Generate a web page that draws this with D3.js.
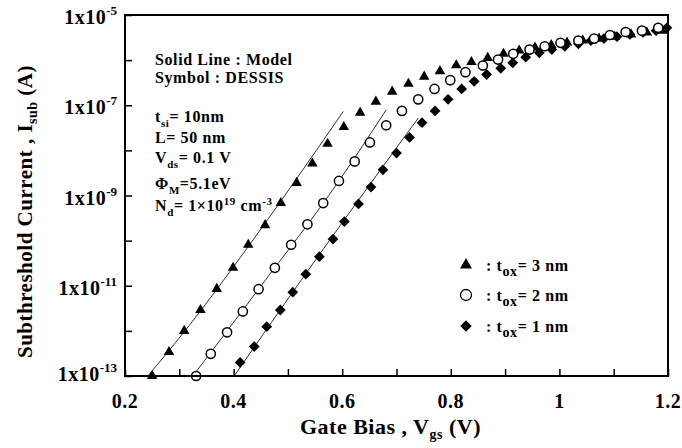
<!DOCTYPE html>
<html>
<head>
<meta charset="utf-8">
<script src="https://cdn.jsdelivr.net/npm/d3@7"></script>
<style>
  body { margin: 0; background: #fff; }
  text { font-family: "Liberation Serif", "Times New Roman", serif; font-weight: bold; fill: #000; }
</style>
</head>
<body>
<svg id="chart" width="682" height="448"></svg>
<script>
// Gate bias (V) and subthreshold current (A)
const triVgs = [0.25, 0.281, 0.309, 0.339, 0.369, 0.399, 0.427, 0.458, 0.487, 0.516, 0.545, 0.573,
  0.603, 0.633, 0.662, 0.692, 0.722, 0.751, 0.780, 0.810, 0.838, 0.868, 0.897, 0.926, 0.955,
  0.985, 1.014, 1.043, 1.073, 1.102, 1.132, 1.161, 1.190];
const triIsub = [1.0e-13, 3.4e-13, 1.0e-12, 2.9e-12, 8.5e-12, 2.5e-11, 8.1e-11, 2.2e-10, 6.8e-10,
  1.9e-9, 5.1e-9, 1.4e-8, 3.3e-8, 6.8e-8, 1.2e-7, 2.0e-7, 3.0e-7, 4.3e-7, 5.7e-7, 7.7e-7, 9.1e-7,
  1.12e-6, 1.38e-6, 1.63e-6, 1.9e-6, 2.16e-6, 2.45e-6, 2.72e-6, 3.0e-6, 3.3e-6, 3.7e-6, 4.1e-6, 4.5e-6];

const cirVgs = [0.331, 0.358, 0.388, 0.417, 0.446, 0.476, 0.506, 0.536, 0.565, 0.594, 0.623, 0.651,
  0.681, 0.710, 0.740, 0.770, 0.799, 0.827, 0.859, 0.887, 0.915, 0.945, 0.973, 1.002, 1.035,
  1.064, 1.093, 1.122, 1.152, 1.182];
const cirIsub = [1.0e-13, 3.1e-13, 9.3e-13, 2.7e-12, 8.4e-12, 2.5e-11, 8.1e-11, 2.3e-10, 6.8e-10,
  2.1e-9, 5.7e-9, 1.5e-8, 3.6e-8, 7.5e-8, 1.35e-7, 2.3e-7, 3.6e-7, 5.4e-7, 7.6e-7, 1.03e-6,
  1.38e-6, 1.71e-6, 2.03e-6, 2.42e-6, 2.72e-6, 3.0e-6, 3.6e-6, 4.2e-6, 4.5e-6, 5.2e-6];

const diaVgs = [0.412, 0.438, 0.461, 0.486, 0.509, 0.533, 0.558, 0.583, 0.604, 0.630, 0.653, 0.675,
  0.700, 0.724, 0.747, 0.771, 0.795, 0.820, 0.843, 0.866, 0.892, 0.914, 0.938, 0.963, 0.986,
  1.010, 1.035, 1.058, 1.082, 1.106, 1.130, 1.154, 1.178, 1.198];
const diaIsub = [2.0e-13, 4.5e-13, 1.24e-12, 2.9e-12, 7.2e-12, 1.8e-11, 4.4e-11, 1.08e-10, 2.65e-10,
  6.5e-10, 1.54e-9, 3.7e-9, 8.7e-9, 1.93e-8, 4.1e-8, 7.5e-8, 1.35e-7, 2.3e-7, 3.4e-7, 4.8e-7,
  6.6e-7, 8.7e-7, 1.16e-6, 1.45e-6, 1.71e-6, 2.03e-6, 2.3e-6, 2.72e-6, 3.0e-6, 3.3e-6, 3.7e-6,
  4.1e-6, 4.5e-6, 5.2e-6];

// model (solid lines)
const modelTriVgs = [0.242, 0.309, 0.427, 0.602];
const modelTriIsub = [1.0e-13, 9.5e-13, 7.4e-11, 7.3e-8];
const modelCirVgs = [0.325, 0.446, 0.594, 0.681];
const modelCirIsub = [1.0e-13, 8.4e-12, 2.1e-9, 7.9e-8];
const modelDiaVgs = [0.401, 0.508, 0.740];
const modelDiaIsub = [1.0e-13, 7.0e-12, 5.2e-8];

const xTicks = [0.2, 0.4, 0.6, 0.8, 1, 1.2];
const xMinor = [0.3, 0.5, 0.7, 0.9, 1.1];
const yExps = [-5, -7, -9, -11, -13];
const yMinorExps = [-6, -8, -10, -12];

const svg = d3.select("#chart");
const plotL = 125, plotR = 668, plotT = 15, plotB = 376;

const x = d3.scaleLinear().domain([0.2, 1.2]).range([plotL, plotR]);
const y = d3.scaleLog().domain([1e-13, 1e-5]).range([plotB, plotT]);

function zip(a, b) { return a.map((v, i) => ({ v: v, i: b[i] })); }

// model lines
const line = d3.line().x(d => x(d.v)).y(d => y(d.i)).curve(d3.curveMonotoneX);
[[modelTriVgs, modelTriIsub], [modelCirVgs, modelCirIsub], [modelDiaVgs, modelDiaIsub]].forEach(m => {
  svg.append("path")
    .datum(zip(m[0], m[1]))
    .attr("d", line)
    .attr("fill", "none")
    .attr("stroke", "#333")
    .attr("stroke-width", 1);
});

// symbols
const triSym = d3.symbol().type(d3.symbolTriangle).size(48);
const diaSym = d3.symbol().type(d3.symbolSquare).size(58);
const triLeg = d3.symbol().type(d3.symbolTriangle).size(62);
const diaLeg = d3.symbol().type(d3.symbolSquare).size(66);

svg.append("g").selectAll("path")
  .data(zip(triVgs, triIsub))
  .join("path")
  .attr("d", triSym)
  .attr("transform", d => `translate(${x(d.v)},${y(d.i)})`)
  .attr("fill", "#000");

svg.append("g").selectAll("path")
  .data(zip(diaVgs, diaIsub))
  .join("path")
  .attr("d", diaSym)
  .attr("transform", d => `translate(${x(d.v)},${y(d.i)}) rotate(45)`)
  .attr("fill", "#000");

svg.append("g").selectAll("circle")
  .data(zip(cirVgs, cirIsub))
  .join("circle")
  .attr("cx", d => x(d.v))
  .attr("cy", d => y(d.i))
  .attr("r", 4.6)
  .attr("fill", "#fff")
  .attr("stroke", "#000")
  .attr("stroke-width", 1.5);

// axes (ticks point inward)
const xAxis = d3.axisBottom(x).tickValues(xTicks.concat(xMinor)).tickSize(-7).tickFormat("");
const gx = svg.append("g").attr("transform", `translate(0,${plotB})`).call(xAxis);
const yAxis = d3.axisLeft(y).tickValues(yExps.concat(yMinorExps).map(e => Math.pow(10, e))).tickSize(-7).tickFormat("");
const gy = svg.append("g").attr("transform", `translate(${plotL},0)`).call(yAxis);
[gx, gy].forEach(g => {
  g.select(".domain").remove();
  g.selectAll(".tick line").attr("stroke", "#000").attr("stroke-width", 1.5);
});

svg.append("rect")
  .attr("x", plotL).attr("y", plotT)
  .attr("width", plotR - plotL).attr("height", plotB - plotT)
  .attr("fill", "none").attr("stroke", "#000").attr("stroke-width", 2);

// tick labels
svg.append("g").selectAll("text")
  .data(xTicks)
  .join("text")
  .attr("x", d => x(d))
  .attr("y", plotB + 32)
  .attr("text-anchor", "middle")
  .style("font-size", "20px")
  .style("letter-spacing", "0.5px")
  .text(d => d);

const yl = svg.append("g").selectAll("text")
  .data(yExps)
  .join("text")
  .attr("x", plotL - 8)
  .attr("y", d => Math.min(y(Math.pow(10, d)) + 9, 381))
  .attr("text-anchor", "end")
  .style("font-size", "20px")
  .style("letter-spacing", "0.5px");
yl.append("tspan").text("1x10");
yl.append("tspan").attr("dy", -9).style("font-size", "13px").style("letter-spacing", "0px").text(d => d);

// axis titles
const xt = svg.append("text")
  .attr("x", (plotL + plotR) / 2 - 6)
  .attr("y", 434)
  .attr("text-anchor", "middle")
  .style("font-size", "22px")
  .style("letter-spacing", "0.5px");
xt.append("tspan").text("Gate Bias , V");
xt.append("tspan").attr("dy", 5).style("font-size", "14px").text("gs");
xt.append("tspan").attr("dy", -5).text(" (V)");

const yt = svg.append("text")
  .attr("transform", `translate(32,${(plotT + plotB) / 2 + 16}) rotate(-90)`)
  .attr("text-anchor", "middle")
  .style("font-size", "21px")
  .style("letter-spacing", "0.5px");
yt.append("tspan").text("Subthreshold Current , I");
yt.append("tspan").attr("dy", 5).style("font-size", "14px").text("sub");
yt.append("tspan").attr("dy", -5).text(" (A)");

// annotations
const note = svg.append("g").style("font-size", "16px").style("letter-spacing", "0.6px");
note.append("text").attr("x", 155).attr("y", 65).text("Solid Line : Model");
note.append("text").attr("x", 155).attr("y", 83).text("Symbol : DESSIS");

function richText(xp, yp, parts) {
  const t = note.append("text").attr("x", xp).attr("y", yp);
  let shift = 0;
  parts.forEach(p => {
    const dy = (p.sub ? 5 : p.sup ? -6 : 0) - shift;
    shift += dy;
    t.append("tspan").attr("dy", dy).style("font-size", p.sub || p.sup ? "11px" : null).text(p.s);
  });
  return t;
}
richText(155, 122, [{ s: "t" }, { s: "si", sub: true }, { s: "= 10nm" }]);
richText(155, 143, [{ s: "L= 50 nm" }]);
richText(155, 163, [{ s: "V" }, { s: "ds", sub: true }, { s: "= 0.1 V" }]);
richText(155, 189, [{ s: "Φ" }, { s: "M", sub: true }, { s: "=5.1eV" }]);
richText(155, 211, [{ s: "N" }, { s: "d", sub: true }, { s: "= 1×10" }, { s: "19", sup: true }, { s: " cm" }, { s: "-3", sup: true }]);

// legend
const legendLabels = ["3", "2", "1"];
const legendY = [265, 295, 326];
const lg = svg.append("g");
lg.append("path").attr("d", triLeg).attr("transform", `translate(466,${legendY[0]})`).attr("fill", "#000");
lg.append("circle").attr("cx", 466).attr("cy", legendY[1]).attr("r", 5.5)
  .attr("fill", "#fff").attr("stroke", "#000").attr("stroke-width", 1.3);
lg.append("path").attr("d", diaLeg).attr("transform", `translate(466,${legendY[2]}) rotate(45)`).attr("fill", "#000");
legendLabels.forEach((l, i) => {
  const t = lg.append("text").attr("x", 486).attr("y", legendY[i] + 6)
    .style("font-size", "16px").style("letter-spacing", "0.6px");
  t.append("tspan").text(": t");
  t.append("tspan").attr("dy", 5).style("font-size", "14px").text("ox");
  t.append("tspan").attr("dy", -5).text(`= ${l} nm`);
});
</script>
</body>
</html>
